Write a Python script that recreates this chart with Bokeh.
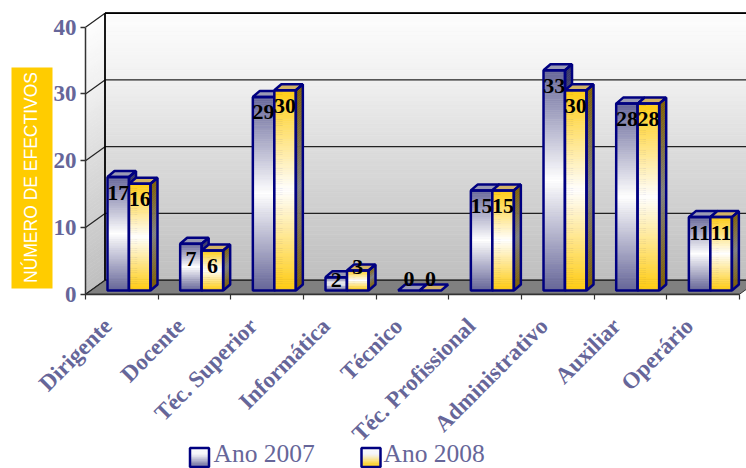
from math import pi
from bokeh.core.properties import value
from bokeh.embed import file_html
from bokeh.models import FixedTicker, LinearAxis, Range1d
from bokeh.plotting import figure
from bokeh.resources import INLINE

categories = ["Dirigente", "Docente", "Téc. Superior", "Informática", "Técnico",
              "Téc. Profissional", "Administrativo", "Auxiliar", "Operário"]
ano_2007 = [17, 7, 29, 2, 0, 15, 33, 28, 11]
ano_2008 = [16, 6, 30, 3, 0, 15, 30, 28, 11]
value_ticks = [0, 10, 20, 30, 40]
series_names = ["Ano 2007", "Ano 2008"]

W, H = 746, 468
X0, X_STEP = 85.0, 72.67      # left end of the category axis, width of a category
Y0, Y_STEP = 293.7, 6.675     # zero line of the value axis, pixels per unit
NAVY = "#000080"
SLATE = "#666699"
SERIF = "Liberation Serif"


def ux(px):
    return (px - X0) / X_STEP


def uy(py):
    return (Y0 - py) / Y_STEP


def mix(a, b, t):
    ca = [int(a[i:i + 2], 16) for i in (1, 3, 5)]
    cb = [int(b[i:i + 2], 16) for i in (1, 3, 5)]
    return "#%02x%02x%02x" % tuple(round(p + (q - p) * t) for p, q in zip(ca, cb))


def ramp(stops, t):
    for (t0, c0), (t1, c1) in zip(stops, stops[1:]):
        if t <= t1:
            return mix(c0, c1, (t - t0) / (t1 - t0))
    return stops[-1][1]


p = figure(width=W, height=H, output_backend="svg", toolbar_location=None,
           x_range=Range1d(ux(0), ux(W)), y_range=Range1d(uy(H), uy(0)),
           min_border=0, outline_line_color=None, x_axis_type=None, y_axis_type=None,
           background_fill_color="white", border_fill_color="white")
p.grid.visible = False

# Box depth: how far the back wall sits behind the axes
DEPTH_X = ux(X0 + 19.5)
DEPTH_Y = 14 / Y_STEP
WALL_STOPS = [(0, "#fefefe"), (0.25, "#f0f0f0"), (0.5, "#dddddd"), (0.75, "#cecece"), (1, "#bfbfbf")]

# Back wall and left wall as thin horizontal bands, light at the top
n = 70
wall_top, wall_bottom = 40 + DEPTH_Y, DEPTH_Y
h = (wall_top - wall_bottom) / n
cols = [ramp(WALL_STOPS, (i + .5) / n) for i in range(n)]
tops = [wall_top - i * h for i in range(n)]
p.quad(left=DEPTH_X, right=ux(W + 20), top=tops, bottom=[t - h for t in tops],
       fill_color=cols, line_color=cols, line_width=0.6)
p.patches(xs=[[0, DEPTH_X, DEPTH_X, 0]] * n,
          ys=[[t - DEPTH_Y, t, t - h, t - h - DEPTH_Y] for t in tops],
          fill_color=cols, line_color=cols, line_width=0.6)

# Floor
p.patch([0, DEPTH_X, 9 + DEPTH_X, 9], [0, DEPTH_Y, DEPTH_Y, 0],
        fill_color="#808080", line_color="#333333", line_width=1)

# Gridlines on both walls
p.segment(x0=DEPTH_X, x1=ux(W + 20), y0=[t + DEPTH_Y for t in value_ticks],
          y1=[t + DEPTH_Y for t in value_ticks], line_color="#222222", line_width=1.2)
p.segment(x0=0, x1=DEPTH_X, y0=value_ticks, y1=[t + DEPTH_Y for t in value_ticks],
          line_color="#222222", line_width=1.2)
p.segment(x0=[DEPTH_X], x1=[DEPTH_X], y0=[DEPTH_Y], y1=[40 + DEPTH_Y],
          line_color="black", line_width=1.8)
p.segment(x0=[DEPTH_X], x1=[ux(W + 20)], y0=[40 + DEPTH_Y], y1=[40 + DEPTH_Y],
          line_color="black", line_width=1.8)

# Bars sit slightly behind the front edge of the floor
BAR_LIFT = 3.7 / Y_STEP
BAR_OFFSET = 22 / X_STEP
BAR_W = 21.5 / X_STEP
BAR_DX = 7 / X_STEP
BAR_DY = 6 / Y_STEP
EDGE = 2.5

FACE = [
    [(0, SLATE), (0.5, "#ffffff"), (1, SLATE)],
    [(0, "#ffcc11"), (0.5, "#ffffff"), (1, "#ffcc11")],
]
SIDE = [
    [(0, "#333366"), (0.5, "#808080"), (1, "#333366")],
    [(0, "#806000"), (0.5, "#808080"), (1, "#806000")],
]
TOP = ["#9a9ab4", "#d2b266"]


def draw_bar(left, v, s):
    base, top = BAR_LIFT, v + BAR_LIFT
    right = left + BAR_W
    if v > 0:
        m = max(4, int(v * 3))
        step = v / m
        cs = [ramp(FACE[s], (i + .5) / m) for i in range(m)]
        ts = [top - i * step for i in range(m)]
        ss = [ramp(SIDE[s], (i + .5) / m) for i in range(m)]
        p.patches(xs=[[right, right + BAR_DX, right + BAR_DX, right]] * m,
                  ys=[[t, t + BAR_DY, t + BAR_DY - step, t - step] for t in ts],
                  fill_color=ss, line_color=ss, line_width=0.6)
        p.quad(left=left, right=right, top=ts, bottom=[t - step for t in ts],
               fill_color=cs, line_color=cs, line_width=0.6)
    p.patch([left, left + BAR_DX, right + BAR_DX, right],
            [top, top + BAR_DY, top + BAR_DY, top],
            fill_color=TOP[s], line_color=NAVY, line_width=EDGE)
    if v > 0:
        p.patch([right, right + BAR_DX, right + BAR_DX, right],
                [top, top + BAR_DY, base + BAR_DY, base],
                fill_color=None, line_color=NAVY, line_width=EDGE)
        p.quad(left=[left], right=[right], top=[top], bottom=[base],
               fill_color=None, line_color=NAVY, line_width=EDGE)


# Printed values: just under the bar top, pushed upward on the shortest bars
LABEL_DROP = {0: -12, 2: 3.3, 3: -3}
lx, ly, lt = [], [], []
for i in range(len(categories)):
    for s, series in enumerate((ano_2007, ano_2008)):
        left = i + BAR_OFFSET + s * BAR_W
        draw_bar(left, series[i], s)
        drop = LABEL_DROP.get(series[i], 15.5)
        lx.append(left + BAR_W / 2)
        ly.append(series[i] + BAR_LIFT - drop / Y_STEP)
        lt.append(str(series[i]))
p.text(lx, ly, text=lt, text_font=value(SERIF), text_font_style="bold", text_font_size="22px",
       text_color="black", text_align="center", text_baseline="middle")

# Legend
for s, (sw_x, txt_x) in enumerate(((189.5, 213), (361, 383))):
    m = 14
    y_top, y_bot = 447.5, 466.5
    step = (y_bot - y_top) / m
    ts = [y_top + i * step for i in range(m)]
    stops = [(0, "#ffffff"), (0.35, "#f4f4f8"), (1, SLATE if s == 0 else "#ffcc00")]
    cs = [ramp(stops, (i + .5) / m) for i in range(m)]
    p.quad(left=ux(sw_x), right=ux(sw_x + 19), top=[uy(t) for t in ts],
           bottom=[uy(t + step) for t in ts], fill_color=cs, line_color=cs, line_width=0.5)
    p.quad(left=[ux(sw_x)], right=[ux(sw_x + 19)], top=[uy(y_top)], bottom=[uy(y_bot)],
           fill_color=None, line_color=NAVY, line_width=2.5)
    p.text([ux(txt_x)], [uy(453)], text=[series_names[s]], text_font=value(SERIF),
           text_font_size="25.5px", text_color=SLATE, text_align="left", text_baseline="middle")

# Value axis
y_axis = LinearAxis(ticker=FixedTicker(ticks=value_ticks), fixed_location=0, bounds=(0, 40),
                    axis_line_color="#333333", axis_line_width=1.5,
                    major_tick_line_color="#333333", major_tick_line_width=1.5,
                    major_tick_in=0, major_tick_out=5, minor_tick_line_color=None,
                    major_label_standoff=4, major_label_text_font=SERIF,
                    major_label_text_font_style="bold", major_label_text_font_size="23px",
                    major_label_text_color=SLATE)
p.add_layout(y_axis, "left")

# Category axis: ticks on the boundaries, names set a little left of the centres
LABEL_SHIFT = 0.31
anchors = [i + LABEL_SHIFT for i in range(len(categories))]
x_axis = LinearAxis(ticker=FixedTicker(ticks=anchors, minor_ticks=list(range(len(categories) + 1))),
                    fixed_location=0, bounds=(0, len(categories)),
                    major_label_overrides=dict(zip(anchors, categories)),
                    axis_line_color="#333333", axis_line_width=1.5,
                    major_tick_line_color=None, minor_tick_line_color="#333333",
                    minor_tick_line_width=1.2, minor_tick_in=0, minor_tick_out=5,
                    major_label_orientation=pi / 4, major_label_standoff=22,
                    major_label_text_font=SERIF, major_label_text_font_style="bold",
                    major_label_text_font_size="23px", major_label_text_color=SLATE)
p.add_layout(x_axis, "below")

# Axis title on its yellow plate
p.quad(left=[ux(11)], right=[ux(52)], top=[uy(67)], bottom=[uy(288)],
       fill_color="#ffcc00", line_color=None)
p.text([ux(30)], [uy(177)], text=["NÚMERO DE EFECTIVOS"], angle=pi / 2,
       text_font=value("Liberation Sans"), text_font_size="17.5px", text_color="white",
       text_align="center", text_baseline="middle")

open("out.html", "w").write(file_html(p, INLINE))
